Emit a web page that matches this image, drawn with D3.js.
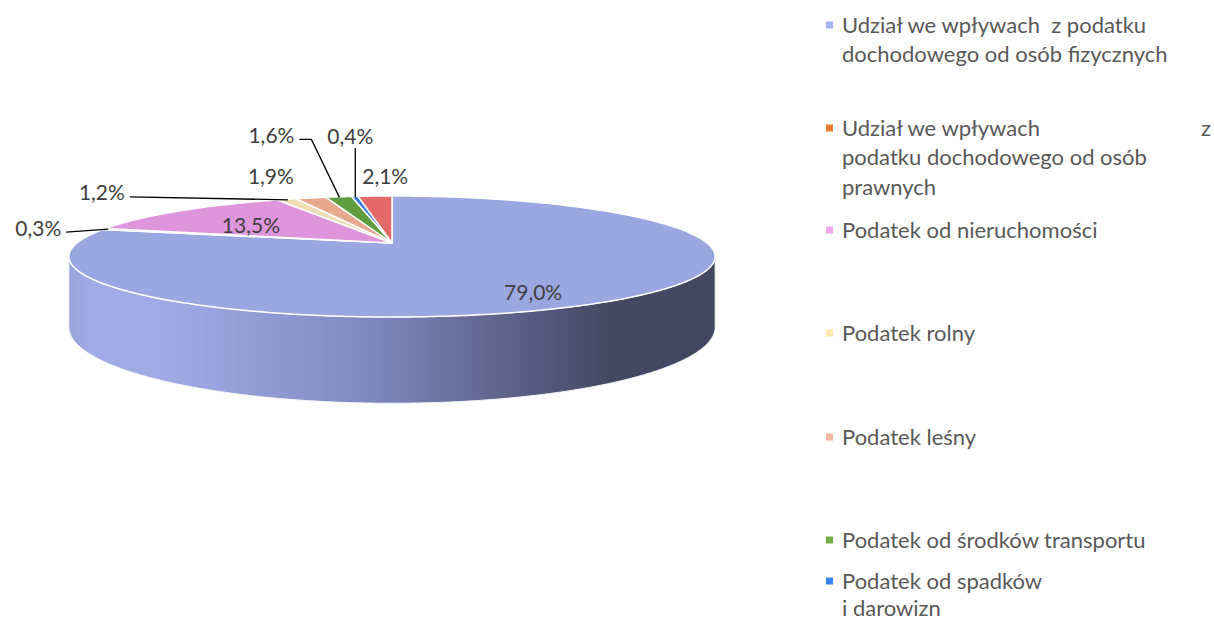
<!DOCTYPE html>
<html>
<head>
<meta charset="utf-8">
<script src="https://cdn.jsdelivr.net/npm/d3@7"></script>
<style>
  body { margin: 0; background: #fff; }
  text { font-family: Lato, "Noto Sans", sans-serif; white-space: pre; }
</style>
</head>
<body>
<div id="chart"></div>
<script>
// data
var categories = [
  "Udział we wpływach z podatku dochodowego od osób fizycznych",
  "Udział we wpływach z podatku dochodowego od osób prawnych",
  "Podatek od nieruchomości",
  "Podatek rolny",
  "Podatek leśny",
  "Podatek od środków transportu",
  "Podatek od spadków i darowizn",
  "Pozostałe"
];
var values = [79.0, 0.3, 13.5, 1.2, 1.9, 1.6, 0.4, 2.1];

// how the legend wraps each name ("|" = pushed to the right edge)
var legendLines = [
  ["Udział we wpływach  z podatku", "dochodowego od osób fizycznych"],
  ["Udział we wpływach|z", "podatku dochodowego od osób", "prawnych"],
  ["Podatek od nieruchomości"],
  ["Podatek rolny"],
  ["Podatek leśny"],
  ["Podatek od środków transportu"],
  ["Podatek od spadków", "i darowizn"],
  ["Pozostałe"]
];

// styles
var topColors = ["#9AA7E0", "#ED7D31", "#DE95DB", "#EEDDB0", "#E6A88F", "#5F9D3E", "#3A7DE0", "#E46A6A"];
var keyColors = ["#A5B3F2", "#ED7D31", "#F4A6F0", "#FFE8AE", "#F8B8A0", "#70AD47", "#3C84F0", "#F07070"];

var w = 1214,
    h = 622;

// pie in perspective
var CX = 392, CY = 243, A = 315, B = 57.5, P = 0.223, D = 67;

function proj(a, r, z) {
  var u = r * Math.sin(a), v = r * Math.cos(a), k = 1 + P * v;
  return [CX + A * u / k, CY - B * v / k + D * z / k];
}

function arcPts(a0, a1, r, z) {
  var n = Math.max(2, Math.ceil(Math.abs(a1 - a0) / 0.01));
  return d3.range(n + 1).map(function(i) { return proj(a0 + (a1 - a0) * i / n, r, z); });
}

var svg = d3.select('#chart').append('svg')
    .attr('width', w)
    .attr('height', h);

var pie = d3.pie().sort(null).value(function(d) { return d; });
var arcs = pie(values);

var line = d3.line();

// side wall gradient
var xl = CX - A / Math.sqrt(1 - P * P),
    xr = CX + A / Math.sqrt(1 - P * P);
var grad = svg.append('defs').append('linearGradient')
    .attr('id', 'wallGrad')
    .attr('gradientUnits', 'userSpaceOnUse')
    .attr('x1', xl).attr('x2', xr).attr('y1', 0).attr('y2', 0);
[[0, "#99A4DC"], [0.04, "#A1ACE7"], [0.16, "#9FAAE5"], [0.45, "#828BC0"],
 [0.72, "#565B80"], [0.84, "#444862"], [1, "#434660"]].forEach(function(s) {
  grad.append('stop').attr('offset', s[0]).attr('stop-color', s[1]);
});

// visible part of the outer wall
var lo = Math.acos(-P), hi = 2 * Math.PI - lo;
arcs.forEach(function(d, i) {
  var s = Math.max(d.startAngle, lo), e = Math.min(d.endAngle, hi);
  if (s >= e) return;
  var pts = arcPts(s, e, 1, 0).concat(arcPts(e, s, 1, 1));
  svg.append('path')
      .attr('d', line(pts) + 'Z')
      .attr('fill', i === 0 ? 'url(#wallGrad)' : topColors[i])
      .attr('stroke', '#f4f5fb')
      .attr('stroke-width', 1);
});

// top faces
svg.selectAll('.slice')
    .data(arcs)
    .enter()
    .append('path')
    .attr('class', 'slice')
    .attr('d', function(d) {
      return line([proj(0, 0, 0)].concat(arcPts(d.startAngle, d.endAngle, 1, 0))) + 'Z';
    })
    .attr('fill', function(d, i) { return topColors[i]; })
    .attr('stroke', '#fff')
    .attr('stroke-width', 1.5)
    .attr('stroke-linejoin', 'round');

// data labels: offset from the rim point of each slice, and leader style
var labelOffset = [[-89, -5], [-70, -1], [68, 14], [-186, -7], [-41, -22], [-68, -62], [-5, -61], [10, -20]];
var leaderType = ['none', 'right', 'none', 'right', 'none', 'right', 'bottom', 'none'];

var fmt = function(v) { return v.toFixed(1).replace('.', ',') + '%'; };

arcs.forEach(function(d, i) {
  var mid = (d.startAngle + d.endAngle) / 2;
  var rim = proj(mid, 0.985, 0);
  var lx = rim[0] + labelOffset[i][0],
      ly = rim[1] + labelOffset[i][1];
  var t = svg.append('text')
      .attr('x', lx)
      .attr('y', ly)
      .attr('dy', '0.36em')
      .attr('text-anchor', 'middle')
      .attr('font-size', '21px')
      .attr('fill', '#404040')
      .text(fmt(d.data));
  var tw = t.node().getComputedTextLength();
  var pts = null;
  if (leaderType[i] === 'right') {
    var x0 = lx + tw / 2 + 5, y0 = ly + 4;
    pts = [[x0, y0], [x0 + 12, y0], rim];
    if (Math.abs(rim[1] - y0) < 8) pts = [[x0, y0], rim];
  } else if (leaderType[i] === 'bottom') {
    pts = [[rim[0], ly + 12], rim];
  }
  if (pts) {
    svg.append('path')
        .attr('d', line(pts))
        .attr('fill', 'none')
        .attr('stroke', '#000')
        .attr('stroke-width', 1.3);
  }
});

// legend
var legendY = [25, 128, 230, 333, 437, 540, 581, 690];
var legX = 842, lineH = 29.5;

categories.forEach(function(c, i) {
  if (legendY[i] > h) return;
  var g = svg.append('g').attr('class', 'legend');
  g.append('rect')
      .attr('x', 826)
      .attr('y', legendY[i] - 3.5)
      .attr('width', 7)
      .attr('height', 7)
      .attr('fill', keyColors[i]);
  legendLines[i].forEach(function(l, j) {
    var parts = l.split('|');
    var y = legendY[i] + j * (i < 2 ? lineH : 27);
    g.append('text')
        .attr('x', legX)
        .attr('y', y)
        .attr('dy', '0.36em')
        .attr('font-size', '22px')
        .attr('fill', '#595959')
        .text(parts[0]);
    if (parts.length > 1) {
      g.append('text')
          .attr('x', 1211)
          .attr('y', y)
          .attr('dy', '0.36em')
          .attr('text-anchor', 'end')
          .attr('font-size', '22px')
          .attr('fill', '#595959')
          .text(parts[1]);
    }
  });
});
</script>
</body>
</html>
